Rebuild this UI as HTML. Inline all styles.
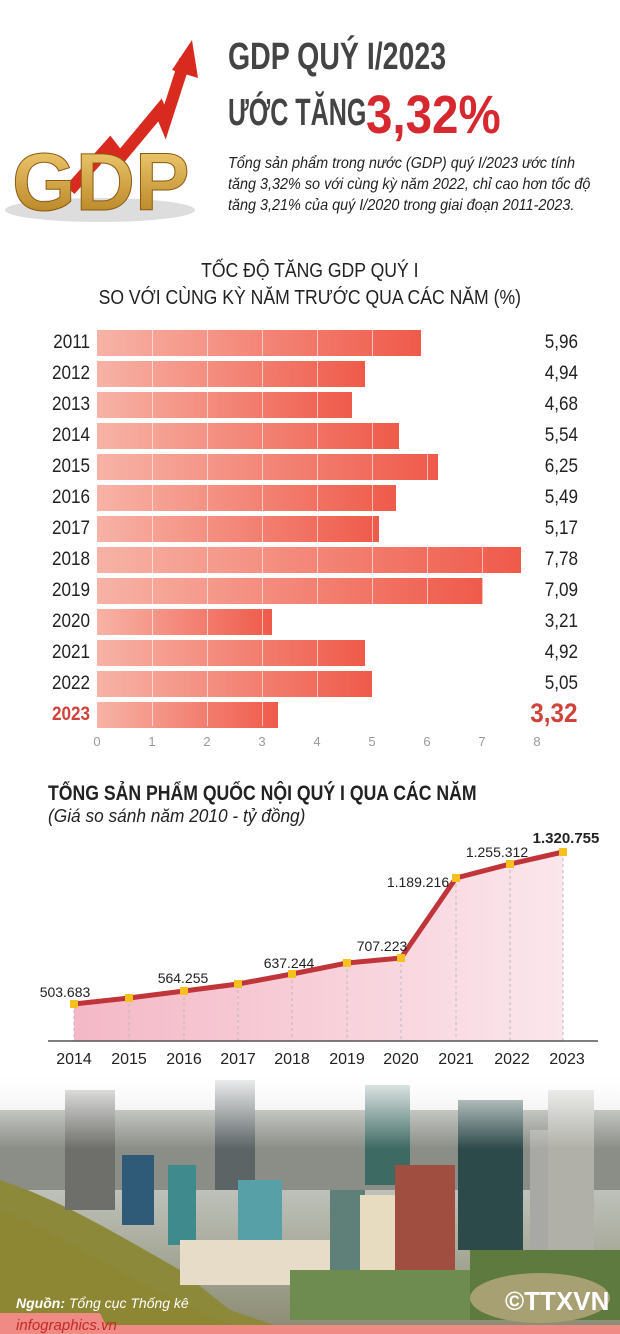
<!DOCTYPE html>
<html><head><meta charset="utf-8">
<style>
*{margin:0;padding:0;box-sizing:border-box}
body{width:620px;height:1334px;background:#fff;position:relative;overflow:hidden;font-family:"Liberation Sans",sans-serif;color:#333}
.a{position:absolute;white-space:nowrap;transform-origin:0 0}
.yr{position:absolute;left:40px;width:50px;text-align:right;font-size:19px;color:#222;transform:scaleX(.9);transform-origin:100% 0}
.val{position:absolute;right:42px;font-size:19px;color:#222;text-align:right;transform:scaleX(.9);transform-origin:100% 0}
.bar{position:absolute;left:97px;height:26px;background:linear-gradient(90deg,#f7b3a6,#ef5a4a)}
.tk{position:absolute;top:734px;font-size:13px;color:#999;width:20px;margin-left:-10px;text-align:center}
.grid{position:absolute;top:330px;width:1px;height:396px;background:rgba(255,255,255,.6)}
</style></head><body>

<svg class="a" style="left:0;top:30px" width="215" height="200" viewBox="0 0 215 200">
<defs><linearGradient id="g" x1="0" y1="0" x2="0" y2="1"><stop offset="0" stop-color="#f5d27a"/><stop offset="1" stop-color="#b07a18"/></linearGradient></defs>
<polyline points="70,160 110,115 120,128 160,80 165,92 185,30" fill="none" stroke="#d92a20" stroke-width="12"/>
<polygon points="172,40 192,10 198,48" fill="#d92a20"/>
<ellipse cx="100" cy="180" rx="95" ry="12" fill="#ddd"/>
<text x="12" y="180" font-family="Liberation Sans" font-weight="bold" font-size="82" fill="url(#g)" stroke="#8a5a10" stroke-width="1">GDP</text>
</svg>

<div class="a" style="left:228px;top:36px;font-size:38px;font-weight:bold;color:#444;transform:scaleX(.75)">GDP QUÝ I/2023</div>
<div class="a" style="left:228px;top:92px;font-size:38px;font-weight:bold;color:#444;transform:scaleX(.66)">ƯỚC TĂNG</div>
<div class="a" style="left:366px;top:84px;font-size:54px;font-weight:bold;color:#d7282f;transform:scaleX(.88)">3,32%</div>
<div class="a" style="left:228px;top:153px;font-size:16px;font-style:italic;line-height:21px;color:#222;transform:scaleX(.9)">Tổng sản phẩm trong nước (GDP) quý I/2023 ước tính<br>tăng 3,32% so với cùng kỳ năm 2022, chỉ cao hơn tốc độ<br>tăng 3,21% của quý I/2020 trong giai đoạn 2011-2023.</div>

<div class="a" style="left:37px;width:620px;top:258px;text-align:center;font-size:20px;line-height:27px;color:#222;transform:scaleX(.88)">TỐC ĐỘ TĂNG GDP QUÝ I<br>SO VỚI CÙNG KỲ NĂM TRƯỚC QUA CÁC NĂM (%)</div>

<div class="bar" style="top:330px;width:324px"></div>
<div class="bar" style="top:361px;width:268px"></div>
<div class="bar" style="top:392px;width:255px"></div>
<div class="bar" style="top:423px;width:302px"></div>
<div class="bar" style="top:454px;width:341px"></div>
<div class="bar" style="top:485px;width:299px"></div>
<div class="bar" style="top:516px;width:282px"></div>
<div class="bar" style="top:547px;width:424px"></div>
<div class="bar" style="top:578px;width:386px"></div>
<div class="bar" style="top:609px;width:175px"></div>
<div class="bar" style="top:640px;width:268px"></div>
<div class="bar" style="top:671px;width:275px"></div>
<div class="bar" style="top:702px;width:181px"></div>
<div class="grid" style="left:152px"></div><div class="grid" style="left:207px"></div><div class="grid" style="left:262px"></div><div class="grid" style="left:317px"></div><div class="grid" style="left:372px"></div><div class="grid" style="left:427px"></div><div class="grid" style="left:482px"></div>

<div class="yr" style="top:332px">2011</div><div class="yr" style="top:363px">2012</div><div class="yr" style="top:394px">2013</div><div class="yr" style="top:425px">2014</div><div class="yr" style="top:456px">2015</div><div class="yr" style="top:487px">2016</div><div class="yr" style="top:518px">2017</div><div class="yr" style="top:549px">2018</div><div class="yr" style="top:580px">2019</div><div class="yr" style="top:611px">2020</div><div class="yr" style="top:642px">2021</div><div class="yr" style="top:673px">2022</div>
<div class="yr" style="top:704px;color:#d0423a;font-weight:bold">2023</div>
<div class="val" style="top:332px">5,96</div><div class="val" style="top:363px">4,94</div><div class="val" style="top:394px">4,68</div><div class="val" style="top:425px">5,54</div><div class="val" style="top:456px">6,25</div><div class="val" style="top:487px">5,49</div><div class="val" style="top:518px">5,17</div><div class="val" style="top:549px">7,78</div><div class="val" style="top:580px">7,09</div><div class="val" style="top:611px">3,21</div><div class="val" style="top:642px">4,92</div><div class="val" style="top:673px">5,05</div>
<div class="val" style="top:698px;font-size:27px;font-weight:bold;color:#d0423a">3,32</div>
<div class="tk" style="left:97px">0</div><div class="tk" style="left:152px">1</div><div class="tk" style="left:207px">2</div><div class="tk" style="left:262px">3</div><div class="tk" style="left:317px">4</div><div class="tk" style="left:372px">5</div><div class="tk" style="left:427px">6</div><div class="tk" style="left:482px">7</div><div class="tk" style="left:537px">8</div>

<div class="a" style="left:48px;top:782px;font-size:21px;font-weight:bold;color:#222;transform:scaleX(.84)">TỔNG SẢN PHẨM QUỐC NỘI QUÝ I QUA CÁC NĂM</div>
<div class="a" style="left:48px;top:806px;font-size:18px;font-style:italic;color:#222;transform:scaleX(.96)">(Giá so sánh năm 2010 - tỷ đồng)</div>

<svg class="a" style="left:0;top:825px" width="620" height="245" viewBox="0 825 620 245">
<defs><linearGradient id="f" x1="0" x2="1"><stop offset="0" stop-color="#f4b8c6"/><stop offset="1" stop-color="#fbe6ec"/></linearGradient></defs>
<polygon points="74,1004 129,998 184,991 238,984 292,974 347,963 401,958 456,878 510,864 563,852 563,1041 74,1041" fill="url(#f)"/>
<g stroke="#bbb" stroke-dasharray="3,3" stroke-width="1">
<line x1="129" y1="998" x2="129" y2="1041"/><line x1="184" y1="991" x2="184" y2="1041"/><line x1="238" y1="984" x2="238" y2="1041"/><line x1="292" y1="974" x2="292" y2="1041"/><line x1="347" y1="963" x2="347" y2="1041"/><line x1="401" y1="958" x2="401" y2="1041"/><line x1="456" y1="878" x2="456" y2="1041"/><line x1="510" y1="864" x2="510" y2="1041"/><line x1="563" y1="852" x2="563" y2="1041"/><line x1="74" y1="1004" x2="74" y2="1041"/></g>
<polyline points="74,1004 129,998 184,991 238,984 292,974 347,963 401,958 456,878 510,864 563,852" fill="none" stroke="#c0353a" stroke-width="5"/>
<g fill="#f5c020"><rect x="70" y="1000" width="8" height="8"/><rect x="125" y="994" width="8" height="8"/><rect x="180" y="987" width="8" height="8"/><rect x="234" y="980" width="8" height="8"/><rect x="288" y="970" width="8" height="8"/><rect x="343" y="959" width="8" height="8"/><rect x="397" y="954" width="8" height="8"/><rect x="452" y="874" width="8" height="8"/><rect x="506" y="860" width="8" height="8"/><rect x="559" y="848" width="8" height="8"/></g>
<line x1="48" y1="1041" x2="598" y2="1041" stroke="#555" stroke-width="1.5"/>
<g font-family="Liberation Sans,sans-serif" font-size="14" fill="#222" text-anchor="middle">
<text x="65" y="997">503.683</text><text x="183" y="983">564.255</text><text x="289" y="968">637.244</text><text x="382" y="951">707.223</text><text x="418" y="887">1.189.216</text><text x="497" y="857">1.255.312</text>
<text x="566" y="843" font-weight="bold" font-size="15">1.320.755</text>
<g font-size="16"><text x="74" y="1064">2014</text><text x="129" y="1064">2015</text><text x="184" y="1064">2016</text><text x="238" y="1064">2017</text><text x="292" y="1064">2018</text><text x="347" y="1064">2019</text><text x="401" y="1064">2020</text><text x="456" y="1064">2021</text><text x="512" y="1064">2022</text><text x="567" y="1064">2023</text></g></g>
</svg>

<svg class="a" style="left:0;top:1070px" width="620" height="264" viewBox="0 0 620 264">
<defs><linearGradient id="sky" x1="0" y1="0" x2="0" y2="1"><stop offset="0" stop-color="#fff"/><stop offset=".35" stop-color="#c8ccc8"/><stop offset="1" stop-color="#8a8a70"/></linearGradient>
<linearGradient id="fade" x1="0" y1="0" x2="0" y2="1"><stop offset="0" stop-color="#fff" stop-opacity="1"/><stop offset=".3" stop-color="#fff" stop-opacity="0"/></linearGradient></defs>
<rect width="620" height="264" fill="url(#sky)"/>
<rect x="0" y="40" width="620" height="80" fill="#8a8e86"/>
<path d="M0,110 C60,130 110,160 180,200 L230,240 L300,264 L0,264Z" fill="#8c8a3a"/>
<path d="M0,140 C80,170 150,230 260,264 L0,264Z" fill="#8d8632"/>
<rect x="65" y="20" width="50" height="120" fill="#6e6e6a"/>
<rect x="215" y="10" width="40" height="110" fill="#5c6466"/>
<rect x="122" y="85" width="32" height="70" fill="#2f5a78"/>
<rect x="168" y="95" width="28" height="80" fill="#3f8a8c"/>
<rect x="238" y="110" width="44" height="60" fill="#58a0a8"/>
<rect x="180" y="170" width="150" height="45" fill="#e6dcc8"/>
<rect x="365" y="15" width="45" height="100" fill="#3e6a64"/>
<rect x="330" y="120" width="35" height="120" fill="#5e8078"/>
<rect x="360" y="125" width="70" height="120" fill="#e8dcc0"/>
<rect x="395" y="95" width="60" height="130" fill="#a04e40"/>
<rect x="458" y="30" width="65" height="150" fill="#2d4a4a"/>
<rect x="530" y="60" width="40" height="130" fill="#a8a8a4"/>
<rect x="548" y="20" width="46" height="160" fill="#b0b0a8"/>
<rect x="290" y="200" width="180" height="50" fill="#6e8c50"/>
<rect x="470" y="180" width="150" height="70" fill="#5e7a3e"/>
<ellipse cx="540" cy="228" rx="70" ry="25" fill="#a6a072"/>
<rect x="0" y="0" width="620" height="264" fill="url(#fade)"/>
<rect x="0" y="255" width="620" height="9" fill="#f08a84"/>
<polygon points="0,243 100,243 110,264 0,264" fill="#f08a84"/>
<text x="16" y="238" font-family="Liberation Sans,sans-serif" font-size="14" fill="#fff" font-style="italic"><tspan font-weight="bold">Nguồn:</tspan> Tổng cục Thống kê</text>
<text x="16" y="260" font-family="Liberation Sans,sans-serif" font-size="15" fill="#c32a2a" font-style="italic">infographics.vn</text>
<text x="505" y="240" font-family="Liberation Sans" font-size="26" font-weight="bold" fill="#fff">©TTXVN</text>
</svg>
</body></html>
